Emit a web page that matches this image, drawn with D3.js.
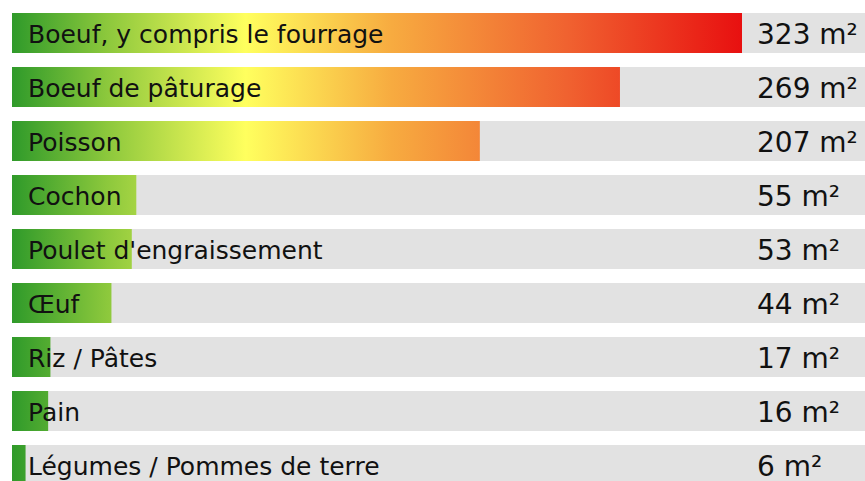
<!DOCTYPE html>
<html>
<head>
<meta charset="utf-8">
<script src="https://cdn.jsdelivr.net/npm/d3@7"></script>
<style>
  body { margin: 0; background: #fff; }
</style>
</head>
<body>
<div id="chart"></div>
<script>
const categories = [
  "Boeuf, y compris le fourrage",
  "Boeuf de pâturage",
  "Poisson",
  "Cochon",
  "Poulet d'engraissement",
  "Œuf",
  "Riz / Pâtes",
  "Pain",
  "Légumes / Pommes de terre"
];
const values = [323, 269, 207, 55, 53, 44, 17, 16, 6];
const unitLabel = "m²";

const width = 865,
      height = 481,
      marginLeft = 12,
      marginTop = 13,
      step = 54,
      barH = 40;

const x = d3.scaleLinear()
  .domain([0, d3.max(values)])
  .range([marginLeft, 742]);

const y = d3.scaleBand()
  .domain(categories)
  .range([marginTop, marginTop + step * (categories.length - 1) + barH])
  .paddingInner((step - barH) / step)
  .paddingOuter(0);

const svg = d3.select("#chart")
  .append("svg")
  .attr("width", width)
  .attr("height", height)
  .attr("font-family", "DejaVu Sans");

// gradient spans the full scale, so short bars only show green
const grad = svg.append("defs")
  .append("linearGradient")
  .attr("id", "heat")
  .attr("gradientUnits", "userSpaceOnUse")
  .attr("x1", x(0)).attr("x2", x(d3.max(values)))
  .attr("y1", 0).attr("y2", 0);

grad.selectAll("stop")
  .data([
    [0, "#2f9a2a"],
    [0.13, "#8cc83c"],
    [0.32, "#ffff5e"],
    [0.52, "#f7ab40"],
    [0.76, "#f06230"],
    [1, "#e81010"]
  ])
  .join("stop")
  .attr("offset", d => d[0])
  .attr("stop-color", d => d[1]);

const row = svg.selectAll("g.row")
  .data(categories)
  .join("g")
  .attr("class", "row")
  .attr("transform", d => `translate(0,${y(d)})`);

row.append("rect") // gray track
  .attr("x", marginLeft)
  .attr("width", width - marginLeft)
  .attr("height", y.bandwidth())
  .attr("fill", "#e2e2e2");

row.append("rect")
  .attr("x", x(0))
  .attr("width", (d, i) => x(values[i]) - x(0))
  .attr("height", y.bandwidth())
  .attr("fill", "url(#heat)");

row.append("text")
  .attr("x", 28)
  .attr("y", y.bandwidth() / 2)
  .attr("dy", "0.38em")
  .attr("font-size", 25)
  .attr("fill", "#111")
  .text(d => d);

row.append("text")
  .attr("x", 757)
  .attr("y", y.bandwidth() / 2)
  .attr("dy", "0.38em")
  .attr("font-size", 28)
  .attr("fill", "#111")
  .text((d, i) => `${values[i]} ${unitLabel}`);
</script>
</body>
</html>
